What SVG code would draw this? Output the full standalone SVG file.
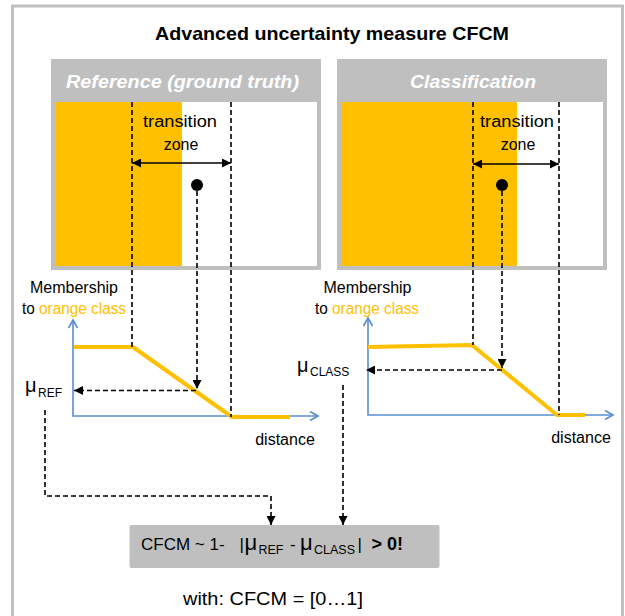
<svg xmlns="http://www.w3.org/2000/svg" width="625" height="616" viewBox="0 0 625 616">
  <style>
    text { font-family: "Liberation Sans", Arial, sans-serif; fill: #000; }
    .title { font-size: 19px; font-weight: bold; }
    .head { font-size: 19px; font-weight: bold; font-style: italic; fill: #fff; }
    .lbl { font-size: 16px; }
    .orange { fill: #FFC000; }
    .mu { font-size: 20px; }
    .sub { font-size: 12px; }
    .frm { font-size: 17px; }
    .frm-mu { font-size: 22px; }
    .frm-sub { font-size: 12.5px; }
    .frame { fill: none; stroke: #C0C0C0; stroke-width: 3; }
    .panel { fill: #fff; stroke: #BFBFBF; stroke-width: 4; }
    .header { fill: #BFBFBF; }
    .zone { fill: #FFC000; }
    .axis { fill: none; stroke: #5A8DD0; stroke-width: 1.6; }
    .curve { fill: none; stroke: #FFC000; stroke-width: 4; stroke-linejoin: round; }
    .dash { fill: none; stroke: #000; stroke-width: 1.6; stroke-dasharray: 5 3; }
    .solid { fill: none; stroke: #000; stroke-width: 1.6; }
    .box { fill: #BFBFBF; }
  </style>
  <defs>
    <marker id="head" viewBox="0 0 10 10" refX="10" refY="5" markerWidth="9" markerHeight="9" markerUnits="userSpaceOnUse" orient="auto-start-reverse">
      <path d="M0,0 L10,5 L0,10 Z" fill="#000"/>
    </marker>
  </defs>

  <!-- outer frame -->
  <rect class="frame" x="12.5" y="6" width="610" height="625"/>

  <text class="title" x="332" y="40" text-anchor="middle" textLength="354" lengthAdjust="spacingAndGlyphs">Advanced uncertainty measure CFCM</text>

  <!-- reference panel -->
  <g id="ref-panel">
    <rect class="panel" x="53" y="61" width="266" height="207"/>
    <rect class="header" x="51" y="59" width="270" height="43"/>
    <rect class="zone" x="55" y="102" width="127" height="164"/>
    <text class="head" x="182.5" y="88" text-anchor="middle" textLength="233" lengthAdjust="spacingAndGlyphs">Reference (ground truth)</text>
    <text class="lbl" x="180" y="127" text-anchor="middle" textLength="74" lengthAdjust="spacingAndGlyphs">transition</text>
    <text class="lbl" x="181" y="150" text-anchor="middle">zone</text>
    <circle cx="197" cy="185" r="6" fill="#000"/>
  </g>

  <!-- classification panel -->
  <g id="cls-panel">
    <rect class="panel" x="339" y="61" width="266" height="207"/>
    <rect class="header" x="337" y="59" width="270" height="43"/>
    <rect class="zone" x="341" y="102" width="176" height="164"/>
    <text class="head" x="473" y="88" text-anchor="middle" textLength="126" lengthAdjust="spacingAndGlyphs">Classification</text>
    <text class="lbl" x="517" y="127" text-anchor="middle" textLength="74" lengthAdjust="spacingAndGlyphs">transition</text>
    <text class="lbl" x="518" y="150" text-anchor="middle">zone</text>
    <circle cx="502" cy="185" r="6" fill="#000"/>
  </g>

  <!-- reference membership chart -->
  <g id="ref-chart">
    <text class="lbl" x="74" y="293" text-anchor="middle">Membership</text>
    <text class="lbl" x="74" y="314" text-anchor="middle" textLength="104" lengthAdjust="spacingAndGlyphs">to <tspan class="orange">orange class</tspan></text>
    <path class="axis" d="M73,320 L73,416 L318,416"/>
    <path class="axis" d="M68.5,328 L73,320 L77.5,328"/>
    <path class="axis" d="M310,411.5 L318,416 L310,420.5"/>
    <path class="curve" d="M74,347 L133,347 L232,417 L290,417"/>
    <text x="25" y="392"><tspan class="mu">μ</tspan><tspan class="sub" x="38" y="397">REF</tspan></text>
    <text class="lbl" x="285" y="445" text-anchor="middle">distance</text>
  </g>

  <!-- classification membership chart -->
  <g id="cls-chart">
    <text class="lbl" x="367.5" y="293" text-anchor="middle">Membership</text>
    <text class="lbl" x="367" y="314" text-anchor="middle" textLength="104" lengthAdjust="spacingAndGlyphs">to <tspan class="orange">orange class</tspan></text>
    <path class="axis" d="M368,318 L368,415 L613,415"/>
    <path class="axis" d="M363.5,326 L368,318 L372.5,326"/>
    <path class="axis" d="M605,410.5 L613,415 L605,419.5"/>
    <path class="curve" d="M368,347 L472,345 L557,415 L585,415"/>
    <text x="297" y="372"><tspan class="mu">μ</tspan><tspan class="sub" x="310" y="376">CLASS</tspan></text>
    <text class="lbl" x="581" y="443" text-anchor="middle">distance</text>
  </g>

  <!-- formula -->
  <g id="formula">
    <rect class="box" x="129.5" y="525" width="310" height="43" rx="2"/>
    <text class="frm" y="550"><tspan x="141">CFCM ~ 1-</tspan><tspan x="239.5">|</tspan><tspan class="frm-mu" x="244.5">μ</tspan><tspan class="frm-sub" x="258.5" y="553.5">REF</tspan><tspan x="290" y="550">-</tspan><tspan class="frm-mu" x="300">μ</tspan><tspan class="frm-sub" x="314" y="553.5">CLASS</tspan><tspan x="357.5" y="550">|</tspan><tspan x="371.5" style="font-weight:bold;font-size:18px">&gt; 0!</tspan></text>
    <text style="font-size:18px" x="273" y="605" text-anchor="middle" textLength="180" lengthAdjust="spacingAndGlyphs">with: CFCM = [0…1]</text>
  </g>

  <!-- connectors -->
  <g id="connectors">
    <line class="solid" x1="132" y1="163" x2="231" y2="163" marker-start="url(#head)" marker-end="url(#head)"/>
    <line class="solid" x1="473" y1="164" x2="559" y2="164" marker-start="url(#head)" marker-end="url(#head)"/>
    <path class="dash" d="M132,102 L132,347"/>
    <path class="dash" d="M231,102 L231,417"/>
    <path class="dash" d="M197,191 L197,389" marker-end="url(#head)"/>
    <path class="dash" d="M196,390.5 L74,390.5" marker-end="url(#head)"/>
    <path class="dash" d="M473,102 L473,345"/>
    <path class="dash" d="M559,102 L559,415"/>
    <path class="dash" d="M502,191 L502,368" marker-end="url(#head)"/>
    <path class="dash" d="M502,370 L366,370" marker-end="url(#head)"/>
    <path class="dash" d="M45,410 L45,496 L271,496 L271,525" marker-end="url(#head)"/>
    <path class="dash" d="M343,385 L343,525" marker-end="url(#head)"/>
  </g>
</svg>
